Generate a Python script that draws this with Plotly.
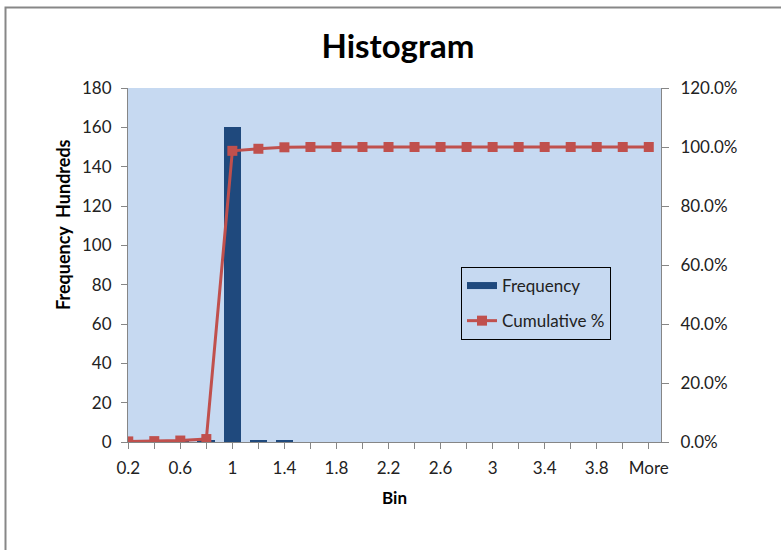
import plotly.graph_objects as go

bins = ["0.2", "0.4", "0.6", "0.8", "1", "1.2", "1.4", "1.6", "1.8", "2", "2.2",
        "2.4", "2.6", "2.8", "3", "3.2", "3.4", "3.6", "3.8", "4", "More"]
frequency_hundreds = [0.3, 0.1, 0.4, 0.8, 160.3, 0.9, 0.6, 0, 0, 0, 0,
                      0, 0, 0, 0, 0, 0, 0, 0, 0, 0]
cumulative_pct = [0.002, 0.003, 0.005, 0.010, 0.987, 0.994, 0.999, 1.0, 1.0, 1.0, 1.0,
                  1.0, 1.0, 1.0, 1.0, 1.0, 1.0, 1.0, 1.0, 1.0, 1.0]
tick_labels = [b if i % 2 == 0 else "" for i, b in enumerate(bins)]
left_ticks = list(range(0, 181, 20))
right_ticks = [0, 0.2, 0.4, 0.6, 0.8, 1.0, 1.2]

FONT = "Lato"
BAR = "#1F497D"
RED = "#C0504D"
AXIS = "#868686"

W, H = 781, 550
L, R, T, B = 128, 661, 88, 442
def px(x):
    return (x - L) / (R - L)
def py(y):
    return (B - y) / (B - T)

fig = go.Figure()
fig.add_trace(go.Bar(x=bins, y=frequency_hundreds, marker=dict(color=BAR, line=dict(width=0)),
                     width=0.68, name="Frequency", showlegend=False, yaxis="y"))
fig.add_trace(go.Scatter(x=[None], y=[None], mode="lines", line=dict(color=BAR, width=7),
                         name="Frequency", legendgroup="a"))
fig.add_trace(go.Scatter(x=bins, y=cumulative_pct, mode="lines+markers", name="Cumulative %",
                         line=dict(color=RED, width=3),
                         marker=dict(symbol="square", size=10, color=RED),
                         yaxis="y2", legendgroup="b"))

fig.update_layout(
    width=W, height=H,
    margin=dict(l=L, r=W - R, t=T, b=H - B),
    paper_bgcolor="white", plot_bgcolor="#C6D9F1",
    font=dict(family=FONT, size=17, color="#222222"),
    title=dict(text="<b>Histogram</b>", x=(398) / W, xanchor="center", y=1 - 46 / H,
               yanchor="middle", font=dict(size=33, color="black", family=FONT)),
    bargap=0,
    xaxis=dict(type="category", categoryarray=bins, range=[-0.01, 20.47],
               tickmode="array", tickvals=bins, ticktext=tick_labels,
               ticks="outside", ticklen=6, tickcolor=AXIS, showline=True, linecolor=AXIS,
               linewidth=1, showgrid=False, zeroline=False, tickangle=0,
               ticklabelstandoff=5,
               title=dict(text="<b>Bin</b>", font=dict(size=17, color="black"), standoff=14)),
    yaxis=dict(range=[0, 180], tickmode="array", tickvals=left_ticks, ticks="outside",
               ticklen=6, tickcolor=AXIS, showline=True, linecolor=AXIS, linewidth=1,
               showgrid=False, zeroline=False, ticklabelstandoff=6),
    yaxis2=dict(range=[0, 1.2], overlaying="y", side="right", tickmode="array",
                tickvals=right_ticks, tickformat=".1%", ticks="outside", ticklen=7,
                tickcolor=AXIS, showline=True, linecolor=AXIS, linewidth=1,
                showgrid=False, zeroline=False, ticklabelstandoff=8),
    legend=dict(x=px(461), y=py(267), xanchor="left", yanchor="top",
                bordercolor="black", borderwidth=1, bgcolor="rgba(0,0,0,0)",
                font=dict(size=17, color="#222222"), tracegroupgap=10,
                traceorder="grouped"),
    annotations=[dict(text="<b>Frequency&nbsp;&nbsp;Hundreds</b>", textangle=-90, xref="paper",
                      yref="paper", x=px(63), y=py(225), xanchor="center", yanchor="middle",
                      showarrow=False, font=dict(size=18, color="black"))],
    shapes=[dict(type="path", xref="paper", yref="paper",
                 path=f"M {px(5.5)} {py(560)} L {px(5.5)} {py(7.5)} L {px(790)} {py(7.5)}",
                 line=dict(color="#878787", width=2))],
)

fig.write_html("out.html")
